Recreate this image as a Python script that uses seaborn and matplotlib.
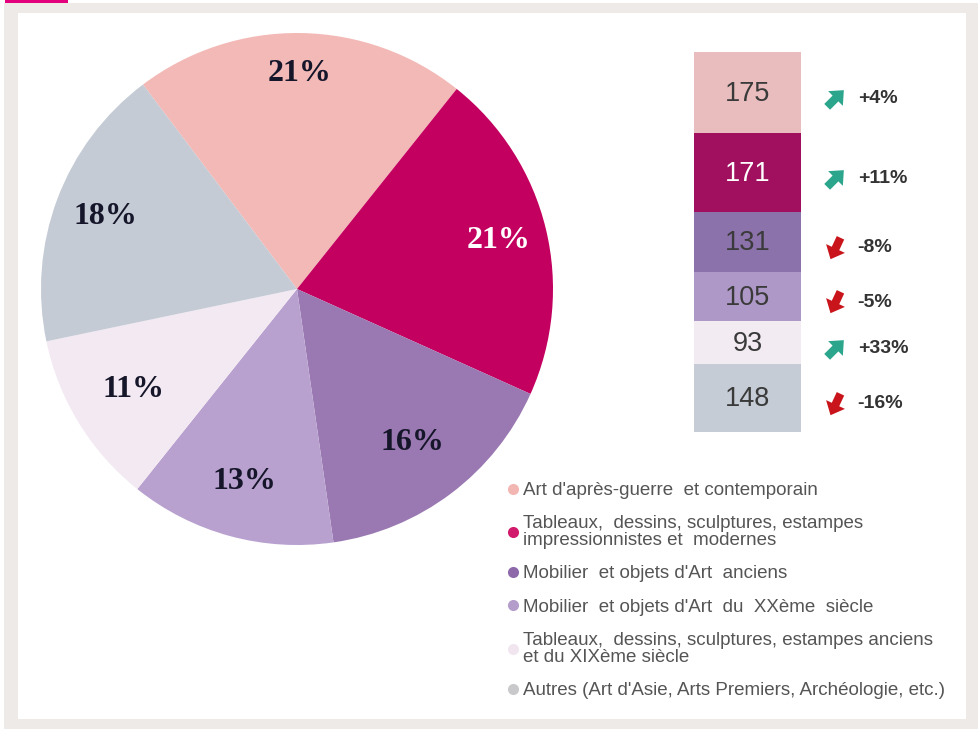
import numpy as np
import matplotlib
matplotlib.use("Agg")
import matplotlib.pyplot as plt
import matplotlib.transforms as mtransforms
from matplotlib.patches import Rectangle
from matplotlib.path import Path
from matplotlib.markers import MarkerStyle
from matplotlib.lines import Line2D
import seaborn as sns

# ---- data -------------------------------------------------------------
categories = [
    "Art d'après-guerre  et contemporain",
    "Tableaux,  dessins, sculptures, estampes\nimpressionnistes et  modernes",
    "Mobilier  et objets d'Art  anciens",
    "Mobilier  et objets d'Art  du  XXème  siècle",
    "Tableaux,  dessins, sculptures, estampes anciens\net du XIXème siècle",
    "Autres (Art d'Asie, Arts Premiers, Archéologie, etc.)",
]
shares = [21, 21, 16, 13, 11, 18]          # % of total
counts = [175, 171, 131, 105, 93, 148]     # number of lots
changes = ["+4%", "+11%", "-8%", "-5%", "+33%", "-16%"]

pie_colors = ["#F3B9B6", "#C3005F", "#9A79B2", "#B9A1CF", "#F3E9F2", "#C4CBD5"]
bar_colors = ["#E9BDBD", "#A1105F", "#8C72AA", "#AE98C7", "#F2EBF1", "#C6CCD5"]
legend_colors = ["#F2B6B3", "#D11A6C", "#8D69A9", "#B49DCB", "#F1E6EF", "#C9C9CB"]

# ---- style ------------------------------------------------------------
sns.set_theme(style="white")
plt.rcParams["font.family"] = ["Liberation Sans", "DejaVu Sans"]

W, H = 979, 729
fig = plt.figure(figsize=(W / 100, H / 100), dpi=100)
fig.patch.set_facecolor("white")


def fr(x0, y0, x1, y1):
    """pixel box (top-left origin) -> figure-fraction rect"""
    return [x0 / W, 1 - y1 / H, (x1 - x0) / W, (y1 - y0) / H]


# page frame
for (x0, y0, x1, y1), c in [((4, 3, 979, 729), "#EEEAE7"),
                            ((17.5, 12.5, 966, 718.5), "white"),
                            ((5, 0, 68, 3.2), "#E4007D")]:
    l, b, w, h = fr(x0, y0, x1, y1)
    fig.add_artist(Rectangle((l, b), w, h, transform=fig.transFigure,
                             facecolor=c, edgecolor="none", zorder=0))

# ---- pie --------------------------------------------------------------
ax_pie = fig.add_axes(fr(41, 33, 553, 545))
wedges, _, pct_texts = ax_pie.pie(
    shares, colors=pie_colors, startangle=127, counterclock=False,
    autopct=lambda p: f"{p:.0f}%", pctdistance=0.8,
    wedgeprops=dict(linewidth=0),
    textprops=dict(family=["Liberation Serif"], weight="bold",
                   fontsize=23, color="#16162A"),
)
ax_pie.set_xlim(-1, 1)
ax_pie.set_ylim(-1, 1)
ax_pie.set_aspect("equal")
ax_pie.axis("off")

label_radius = [0.84, 0.81, 0.75, 0.78, 0.75, 0.80]
for w, t, r in zip(wedges, pct_texts, label_radius):
    th = np.deg2rad((w.theta1 + w.theta2) / 2)
    t.set_position((r * np.cos(th), r * np.sin(th)))
pct_texts[1].set_color("white")

# ---- stacked count bar ------------------------------------------------
ax_bar = fig.add_axes(fr(694, 52, 801, 432))
bottoms = np.concatenate([[0], np.cumsum(counts)[:-1]])
ax_bar.bar(np.zeros(len(counts)), counts, width=1.0, bottom=bottoms,
           color=bar_colors, linewidth=0)
ax_bar.set_xlim(-0.5, 0.5)
ax_bar.set_ylim(sum(counts), 0)
ax_bar.axis("off")

centers = bottoms + np.asarray(counts) / 2
for i, (c, y) in enumerate(zip(counts, centers)):
    ax_bar.text(0, y + 3, str(c), ha="center", va="center", fontsize=19.5,
                color="white" if i == 1 else "#3A3A3A")

# trend arrows
arrow_path = Path([(-0.26, -0.75), (0.26, -0.75), (0.26, 0.0), (0.66, 0.0),
                   (0.0, 0.75), (-0.66, 0.0), (-0.26, 0.0), (-0.26, -0.75)],
                  [Path.MOVETO] + [Path.LINETO] * 6 + [Path.CLOSEPOLY])
up_marker = MarkerStyle(arrow_path, transform=mtransforms.Affine2D().rotate_deg(-45))
down_marker = MarkerStyle(arrow_path, transform=mtransforms.Affine2D().rotate_deg(155))

shift = mtransforms.offset_copy(ax_bar.transData, fig=fig, y=-6, units="dots")
for y, ch in zip(centers, changes):
    up = ch.startswith("+")
    ax_bar.plot([0.82], [y], linestyle="none",
                marker=up_marker if up else down_marker, markersize=17,
                color="#2BA58B" if up else "#C8141A", markeredgewidth=0,
                transform=shift, clip_on=False)
    ax_bar.text(1.03, y, ch, ha="left", va="center", fontsize=14,
                weight="bold", color="#333333", transform=shift, clip_on=False)

# ---- legend -----------------------------------------------------------
handles = [Line2D([], [], linestyle="none", marker="o", markersize=8,
                  markerfacecolor=c, markeredgewidth=0) for c in legend_colors]
leg = fig.legend(handles, categories, loc="upper left",
                 bbox_to_anchor=(505 / W, 1 - 482 / H), frameon=False,
                 fontsize=13.5, labelspacing=0.86, handlelength=0.8,
                 handletextpad=0.15, borderpad=0, borderaxespad=0)
for t in leg.get_texts():
    t.set_color("#555555")
    t.set_linespacing(1.0)

fig.savefig("out.png", dpi=100, facecolor="white")
